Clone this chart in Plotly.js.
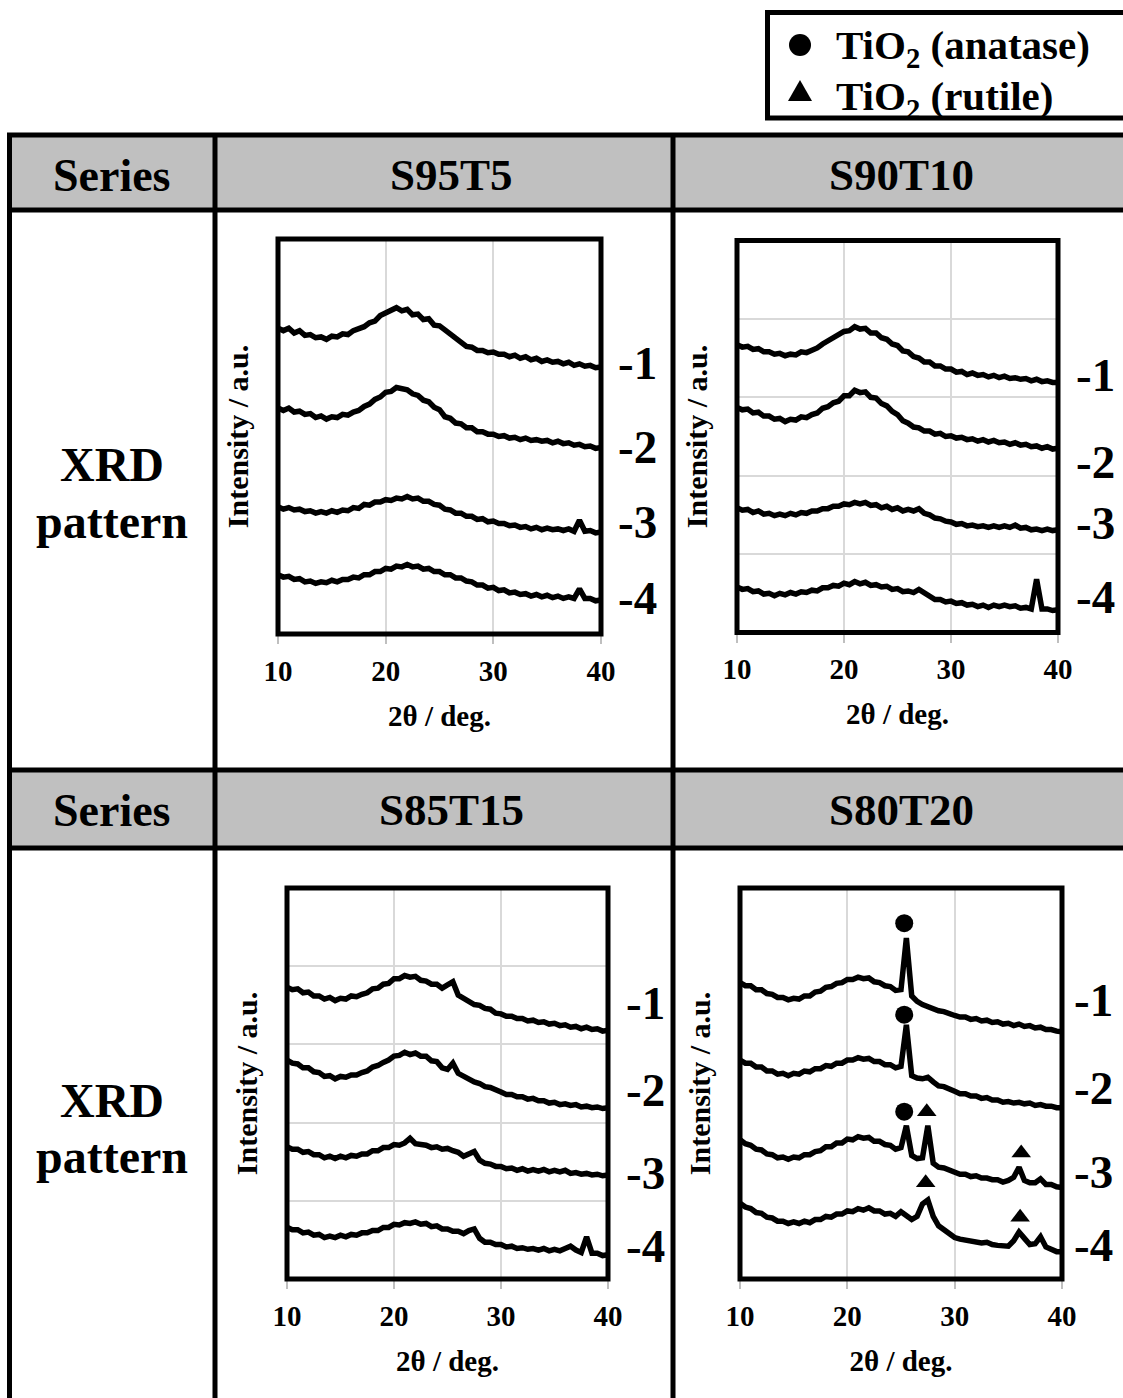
<!DOCTYPE html>
<html>
<head>
<meta charset="utf-8">
<script src="https://cdn.plot.ly/plotly-3.0.1.min.js"></script>
<style>
  html, body { margin: 0; padding: 0; background: #ffffff; }
  #fig { width: 1123px; height: 1398px; }
</style>
</head>
<body>
<div id="fig"></div>
<script>
// 2θ scan positions (deg), 0.5° step
const twoTheta = [10,10.5,11,11.5,12,12.5,13,13.5,14,14.5,15,15.5,16,16.5,17,17.5,18,18.5,19,19.5,
  20,20.5,21,21.5,22,22.5,23,23.5,24,24.5,25,25.5,26,26.5,27,27.5,28,28.5,29,29.5,
  30,30.5,31,31.5,32,32.5,33,33.5,34,34.5,35,35.5,36,36.5,37,37.5,38,38.5,39,39.5,40];

// Stacked intensities (a.u., offset per sample)
const S95T5_1 = [3.87,3.84,3.87,3.81,3.84,3.78,3.79,3.75,3.76,3.73,3.77,3.76,3.80,3.79,3.84,3.86,3.89,3.94,3.96,4.03,
  4.06,4.10,4.13,4.09,4.11,4.04,4.05,3.98,3.99,3.91,3.90,3.85,3.80,3.73,3.69,3.64,3.63,3.59,3.59,3.56,
  3.57,3.54,3.54,3.51,3.53,3.49,3.51,3.47,3.49,3.45,3.47,3.44,3.45,3.42,3.44,3.40,3.42,3.39,3.40,3.37,3.38];
const S95T5_2 = [2.86,2.83,2.86,2.81,2.82,2.78,2.79,2.74,2.76,2.72,2.75,2.74,2.78,2.77,2.81,2.83,2.88,2.91,2.97,3.00,
  3.06,3.07,3.12,3.10,3.09,3.04,3.02,2.96,2.94,2.87,2.84,2.75,2.73,2.67,2.66,2.61,2.61,2.56,2.56,2.53,
  2.53,2.50,2.51,2.48,2.49,2.46,2.48,2.45,2.46,2.44,2.45,2.42,2.44,2.41,2.42,2.39,2.40,2.37,2.38,2.35,2.36];
const S95T5_3 = [1.61,1.58,1.60,1.57,1.58,1.55,1.56,1.53,1.55,1.53,1.56,1.54,1.57,1.56,1.60,1.59,1.64,1.63,1.67,1.67,
  1.70,1.69,1.72,1.71,1.74,1.71,1.72,1.68,1.68,1.64,1.63,1.58,1.57,1.53,1.53,1.49,1.49,1.45,1.46,1.42,
  1.43,1.40,1.40,1.37,1.38,1.35,1.36,1.33,1.35,1.32,1.34,1.32,1.33,1.31,1.33,1.30,1.44,1.30,1.31,1.28,1.29];
const S95T5_4 = [0.75,0.72,0.73,0.69,0.70,0.66,0.67,0.64,0.66,0.65,0.68,0.66,0.69,0.69,0.72,0.71,0.75,0.75,0.79,0.79,
  0.83,0.82,0.86,0.85,0.88,0.85,0.86,0.82,0.83,0.79,0.79,0.75,0.75,0.71,0.71,0.67,0.66,0.62,0.62,0.58,
  0.59,0.55,0.56,0.52,0.53,0.50,0.51,0.48,0.50,0.47,0.49,0.46,0.48,0.45,0.47,0.45,0.57,0.45,0.45,0.42,0.43];

const S90T10_1 = [3.67,3.64,3.65,3.61,3.62,3.58,3.58,3.55,3.56,3.53,3.55,3.54,3.58,3.57,3.60,3.63,3.68,3.72,3.76,3.79,
  3.84,3.85,3.90,3.87,3.88,3.82,3.82,3.76,3.74,3.68,3.66,3.59,3.58,3.52,3.50,3.45,3.45,3.40,3.40,3.36,
  3.36,3.32,3.33,3.29,3.31,3.28,3.29,3.26,3.28,3.25,3.27,3.24,3.25,3.23,3.24,3.21,3.23,3.20,3.21,3.19,3.19];
const S90T10_2 = [2.87,2.84,2.85,2.80,2.81,2.76,2.76,2.72,2.73,2.69,2.72,2.71,2.75,2.74,2.78,2.80,2.86,2.88,2.93,2.95,
  3.02,3.02,3.09,3.06,3.07,3.00,2.99,2.92,2.89,2.82,2.78,2.70,2.67,2.62,2.61,2.57,2.57,2.53,2.54,2.50,
  2.51,2.48,2.49,2.46,2.47,2.44,2.46,2.43,2.45,2.42,2.43,2.40,2.42,2.39,2.40,2.37,2.38,2.35,2.37,2.34,2.35];
const S90T10_3 = [1.59,1.56,1.57,1.53,1.55,1.51,1.52,1.49,1.51,1.49,1.52,1.50,1.53,1.52,1.55,1.55,1.58,1.58,1.61,1.61,
  1.64,1.63,1.66,1.64,1.66,1.62,1.63,1.59,1.61,1.57,1.59,1.55,1.57,1.55,1.58,1.52,1.50,1.46,1.45,1.42,
  1.41,1.38,1.39,1.36,1.37,1.35,1.36,1.34,1.36,1.34,1.36,1.34,1.37,1.33,1.34,1.31,1.32,1.30,1.32,1.30,1.31];
const S90T10_4 = [0.58,0.55,0.56,0.52,0.53,0.49,0.50,0.47,0.50,0.48,0.51,0.49,0.52,0.51,0.54,0.53,0.57,0.57,0.60,0.59,
  0.63,0.61,0.65,0.62,0.64,0.60,0.61,0.58,0.59,0.55,0.56,0.52,0.53,0.51,0.55,0.51,0.47,0.42,0.42,0.39,
  0.40,0.37,0.38,0.35,0.36,0.33,0.35,0.32,0.35,0.33,0.35,0.33,0.34,0.31,0.32,0.30,0.68,0.30,0.30,0.28,0.29];

const S85T15_1 = [3.73,3.70,3.71,3.66,3.67,3.62,3.62,3.58,3.60,3.56,3.59,3.58,3.62,3.61,3.64,3.66,3.71,3.72,3.77,3.78,
  3.84,3.84,3.88,3.86,3.87,3.82,3.81,3.77,3.77,3.72,3.76,3.80,3.63,3.59,3.56,3.51,3.50,3.46,3.45,3.40,
  3.39,3.36,3.36,3.33,3.33,3.30,3.31,3.28,3.29,3.26,3.27,3.24,3.25,3.22,3.23,3.20,3.22,3.19,3.20,3.17,3.18];
const S85T15_2 = [2.80,2.76,2.75,2.70,2.70,2.65,2.64,2.59,2.60,2.56,2.59,2.58,2.61,2.61,2.64,2.66,2.71,2.73,2.77,2.80,
  2.85,2.86,2.90,2.87,2.89,2.85,2.85,2.79,2.78,2.70,2.68,2.76,2.63,2.59,2.57,2.52,2.50,2.46,2.45,2.41,
  2.39,2.36,2.36,2.33,2.33,2.30,2.31,2.28,2.28,2.25,2.26,2.23,2.24,2.22,2.23,2.20,2.21,2.19,2.20,2.18,2.19];
const S85T15_3 = [1.69,1.66,1.66,1.62,1.63,1.59,1.59,1.55,1.57,1.54,1.57,1.55,1.58,1.57,1.60,1.60,1.64,1.64,1.68,1.68,
  1.72,1.71,1.74,1.80,1.73,1.72,1.71,1.68,1.69,1.66,1.67,1.64,1.62,1.57,1.60,1.63,1.52,1.48,1.47,1.44,
  1.44,1.41,1.42,1.39,1.41,1.38,1.40,1.38,1.40,1.37,1.39,1.37,1.39,1.35,1.36,1.34,1.35,1.33,1.34,1.32,1.33];
const S85T15_4 = [0.66,0.63,0.63,0.59,0.60,0.56,0.57,0.53,0.55,0.53,0.56,0.54,0.57,0.56,0.59,0.59,0.62,0.62,0.66,0.66,
  0.70,0.69,0.72,0.71,0.73,0.70,0.71,0.67,0.68,0.64,0.64,0.61,0.61,0.58,0.62,0.64,0.52,0.47,0.47,0.44,
  0.44,0.41,0.42,0.39,0.40,0.38,0.39,0.37,0.39,0.36,0.38,0.36,0.39,0.42,0.37,0.34,0.54,0.33,0.33,0.30,0.31];

const S80T20_1 = [3.79,3.75,3.75,3.70,3.70,3.65,3.64,3.60,3.60,3.57,3.59,3.58,3.62,3.62,3.67,3.68,3.73,3.74,3.78,3.79,
  3.83,3.83,3.86,3.84,3.85,3.80,3.79,3.75,3.74,3.69,3.70,4.36,3.62,3.55,3.51,3.48,3.46,3.43,3.42,3.39,
  3.37,3.35,3.35,3.32,3.33,3.30,3.31,3.28,3.29,3.26,3.27,3.24,3.26,3.23,3.24,3.21,3.22,3.19,3.19,3.17,3.16];
const S80T20_2 = [2.80,2.76,2.76,2.71,2.71,2.66,2.66,2.62,2.63,2.60,2.63,2.62,2.66,2.65,2.69,2.69,2.73,2.72,2.76,2.76,
  2.80,2.80,2.83,2.81,2.82,2.78,2.78,2.74,2.74,2.70,2.72,3.25,2.60,2.57,2.56,2.58,2.52,2.47,2.46,2.42,
  2.40,2.37,2.37,2.34,2.34,2.31,2.32,2.29,2.29,2.26,2.27,2.25,2.26,2.24,2.25,2.22,2.23,2.21,2.21,2.19,2.19];
const S80T20_3 = [1.78,1.73,1.71,1.66,1.65,1.60,1.59,1.55,1.56,1.53,1.56,1.55,1.59,1.59,1.63,1.64,1.69,1.69,1.74,1.74,
  1.79,1.78,1.82,1.80,1.81,1.76,1.76,1.72,1.71,1.66,1.68,1.96,1.58,1.54,1.55,1.96,1.48,1.43,1.42,1.39,
  1.37,1.34,1.34,1.31,1.32,1.29,1.29,1.27,1.27,1.24,1.26,1.30,1.43,1.26,1.23,1.23,1.28,1.21,1.21,1.18,1.17];
const S80T20_4 = [0.97,0.92,0.90,0.85,0.84,0.79,0.78,0.74,0.74,0.71,0.73,0.71,0.74,0.72,0.76,0.76,0.80,0.79,0.83,0.83,
  0.87,0.86,0.90,0.88,0.91,0.87,0.87,0.83,0.84,0.80,0.86,0.82,0.76,0.80,0.96,1.01,0.80,0.68,0.63,0.58,
  0.53,0.51,0.50,0.48,0.48,0.46,0.47,0.44,0.43,0.42,0.42,0.49,0.60,0.52,0.44,0.45,0.54,0.41,0.38,0.35,0.35];

// Phase identification marks (S80T20)
const anataseX = [25.3, 25.3, 25.3];
const anataseY = [4.55, 3.38, 2.14];
const rutileX = [27.4, 36.2, 27.3, 36.1];
const rutileY = [2.14, 1.61, 1.23, 0.79];

const seriesNames = ['S95T5', 'S90T10', 'S85T15', 'S80T20'];
const sampleLabels = ['-1', '-2', '-3', '-4'];
const tickValues = [10, 20, 30, 40];
const rowHeader = 'Series';
const rowLabel = ['XRD', 'pattern'];
const xTitle = '2θ / deg.';
const yTitle = 'Intensity / a.u.';
const legendAnatase = 'TiO<sub>2</sub> (anatase)';
const legendRutile = 'TiO<sub>2</sub> (rutile)';

// ---- page geometry (px) ----
const W = 1123, H = 1398;
const fx = p => p / W;
const fy = p => 1 - p / H;
const FONT = 'Liberation Serif, Times New Roman, Times, serif';
const bold = (size) => ({ family: FONT, size: size, color: '#000', weight: 700 });

const panels = [
  { name: seriesNames[0], curves: [S95T5_1, S95T5_2, S95T5_3, S95T5_4], box: [278, 601, 239, 634], hgrid: false,
    head: [451, 175], labX: 637, labY: [363, 447, 522, 598] },
  { name: seriesNames[1], curves: [S90T10_1, S90T10_2, S90T10_3, S90T10_4], box: [737, 1058, 240.5, 632.5], hgrid: true,
    head: [901, 175], labX: 1095, labY: [375, 462, 523, 597] },
  { name: seriesNames[2], curves: [S85T15_1, S85T15_2, S85T15_3, S85T15_4], box: [287, 608, 888, 1279], hgrid: true,
    head: [451, 810], labX: 645, labY: [1003, 1090, 1173, 1246] },
  { name: seriesNames[3], curves: [S80T20_1, S80T20_2, S80T20_3, S80T20_4], box: [740, 1062, 888, 1279], hgrid: false,
    head: [901, 810], labX: 1093, labY: [1000, 1088, 1172, 1245] }
];

const traces = [];
const layout = {
  width: W, height: H,
  margin: { l: 0, r: 0, t: 0, b: 0 },
  paper_bgcolor: '#ffffff', plot_bgcolor: 'rgba(0,0,0,0)',
  showlegend: false,
  shapes: [], annotations: []
};

// table cells and rules
const greyRows = [[135, 210], [770, 848]];
greyRows.forEach(r => layout.shapes.push({ type: 'rect', xref: 'paper', yref: 'paper', layer: 'below',
  x0: fx(9), x1: fx(W + 5), y0: fy(r[1]), y1: fy(r[0]), fillcolor: '#c0c0c0', line: { width: 0 } }));
[135, 210, 770, 848].forEach(y => layout.shapes.push({ type: 'line', xref: 'paper', yref: 'paper', layer: 'above',
  x0: fx(7), x1: fx(W + 5), y0: fy(y), y1: fy(y), line: { color: '#000', width: 5 } }));
[9.5, 215, 673].forEach(x => layout.shapes.push({ type: 'line', xref: 'paper', yref: 'paper', layer: 'above',
  x0: fx(x), x1: fx(x), y0: fy(133), y1: fy(H + 5), line: { color: '#000', width: 5 } }));

// row text
[175, 810].forEach(y => layout.annotations.push({ xref: 'paper', yref: 'paper', x: fx(112), y: fy(y),
  text: rowHeader, showarrow: false, font: bold(46), xanchor: 'center', yanchor: 'middle' }));
[[465, 521], [1100, 1156]].forEach(ys => ys.forEach((y, k) => layout.annotations.push({ xref: 'paper', yref: 'paper',
  x: fx(112), y: fy(y), text: rowLabel[k], showarrow: false, font: bold(48), xanchor: 'center', yanchor: 'middle' })));

panels.forEach((p, i) => {
  const n = i === 0 ? '' : String(i + 1);
  const [l, r, t, b] = p.box;
  layout['xaxis' + n] = {
    domain: [fx(l), fx(r)], range: [10, 40], anchor: 'y' + n,
    tickmode: 'array', tickvals: tickValues, ticktext: tickValues.map(String),
    ticks: 'outside', ticklen: 9, tickwidth: 2, tickcolor: '#bfbfbf', ticklabelstandoff: 2,
    showline: false, showgrid: true, gridcolor: '#d9d9d9', gridwidth: 2, zeroline: false,
    tickfont: bold(29), fixedrange: true,
    title: { text: xTitle, font: bold(29), standoff: 19 }
  };
  layout['yaxis' + n] = {
    domain: [fy(b), fy(t)], range: [0, 5], anchor: 'x' + n,
    showticklabels: false, ticks: '', dtick: 1, showgrid: p.hgrid, gridcolor: '#d9d9d9', gridwidth: 2,
    zeroline: false, showline: false, fixedrange: true,
    title: { text: yTitle, font: bold(30), standoff: 19 }
  };
  p.curves.forEach(c => traces.push({
    type: 'scatter', mode: 'lines', x: twoTheta, y: c, xaxis: 'x' + n, yaxis: 'y' + n,
    line: { color: '#000', width: 5.5 }, hoverinfo: 'skip'
  }));
  // plot frame
  layout.shapes.push({ type: 'rect', xref: 'paper', yref: 'paper', layer: 'above',
    x0: fx(l), x1: fx(r), y0: fy(b), y1: fy(t), line: { color: '#000', width: 5 } });
  // header
  layout.annotations.push({ xref: 'paper', yref: 'paper', x: fx(p.head[0]), y: fy(p.head[1]), text: p.name,
    showarrow: false, font: bold(45), xanchor: 'center', yanchor: 'middle' });
  // sample labels
  sampleLabels.forEach((s, k) => layout.annotations.push({ xref: 'paper', yref: 'paper', x: fx(p.labX), y: fy(p.labY[k]),
    text: s, showarrow: false, font: bold(47), xanchor: 'center', yanchor: 'middle' }));
});

// phase marks on S80T20
traces.push({ type: 'scatter', mode: 'markers', x: anataseX, y: anataseY, xaxis: 'x4', yaxis: 'y4',
  name: 'anatase', marker: { symbol: 'circle', size: 18, color: '#000' }, hoverinfo: 'skip' });
traces.push({ type: 'scatter', mode: 'markers', x: rutileX, y: rutileY, xaxis: 'x4', yaxis: 'y4',
  name: 'rutile', marker: { symbol: 'triangle-up', size: 17, color: '#000' }, hoverinfo: 'skip' });

// key box
layout.shapes.push({ type: 'rect', xref: 'paper', yref: 'paper', layer: 'above',
  x0: fx(767.5), x1: fx(W + 10), y0: fy(118), y1: fy(12.5), line: { color: '#000', width: 5 }, fillcolor: 'rgba(0,0,0,0)' });
layout.shapes.push({ type: 'circle', xref: 'paper', yref: 'paper', layer: 'above',
  x0: fx(789), x1: fx(811), y0: fy(56), y1: fy(34), fillcolor: '#000', line: { width: 0 } });
layout.shapes.push({ type: 'path', xref: 'paper', yref: 'paper', layer: 'above',
  path: `M ${fx(788)},${fy(101)} L ${fx(812)},${fy(101)} L ${fx(800)},${fy(80)} Z`, fillcolor: '#000', line: { width: 0 } });
layout.annotations.push({ xref: 'paper', yref: 'paper', x: fx(834), y: fy(48), text: legendAnatase,
  showarrow: false, font: bold(41), xanchor: 'left', yanchor: 'middle' });
layout.annotations.push({ xref: 'paper', yref: 'paper', x: fx(834), y: fy(99), text: legendRutile,
  showarrow: false, font: bold(41), xanchor: 'left', yanchor: 'middle' });

Plotly.newPlot('fig', traces, layout, { staticPlot: true, displayModeBar: false });
</script>
</body>
</html>
